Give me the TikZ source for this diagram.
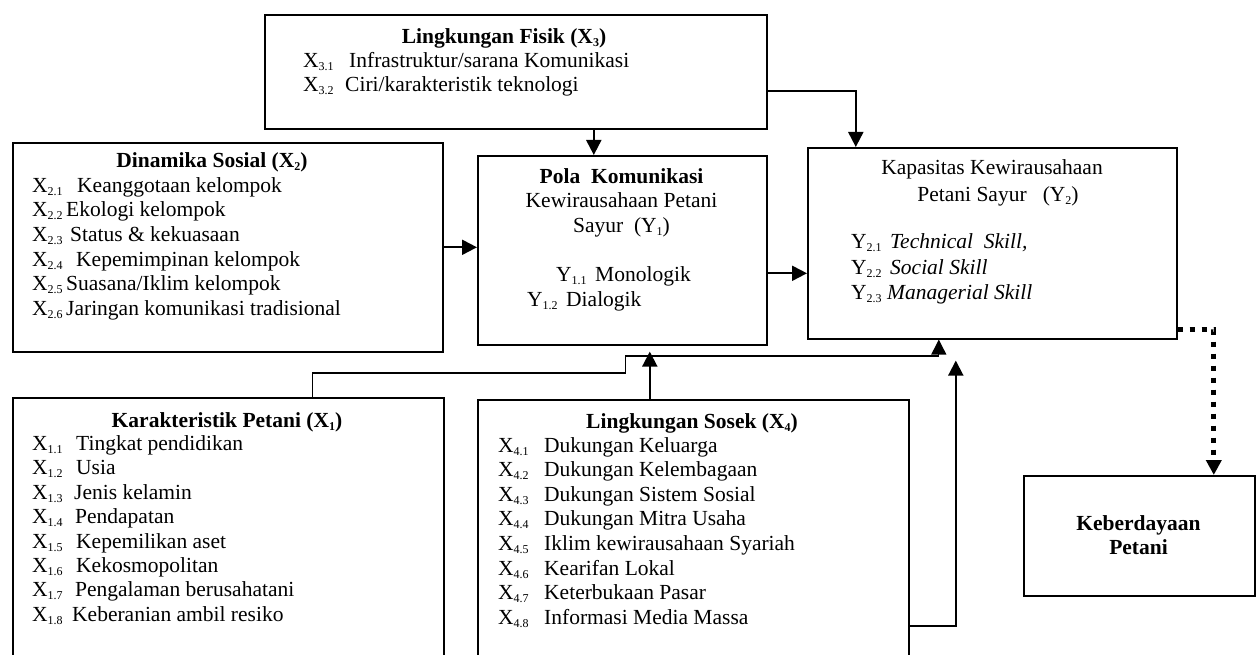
\documentclass[tikz,border=0pt]{standalone}
\usepackage{fontspec}
\setmainfont{Liberation Serif}
\usetikzlibrary{arrows.meta,positioning}
\tikzstyle{box}=[draw,line width=1.6pt,inner sep=0pt,anchor=north west]
\tikzstyle{txt}=[inner sep=0pt,text height=15pt,text depth=5pt]
\tikzstyle{head}=[txt,font=\bfseries]
\tikzstyle{item}=[txt,anchor=west]
\tikzstyle{arr}=[draw,line width=2pt,-{Triangle[length=15pt,width=15pt]}]
\tikzstyle{thin arr}=[arr,line width=1.3pt]
\tikzstyle{dot arr}=[arr,line width=5pt,dash pattern=on 5pt off 7pt]
\newcommand{\vx}[1]{X\raisebox{-3pt}{\fontsize{12}{12}\selectfont #1}}
\newcommand{\vy}[1]{Y\raisebox{-3pt}{\fontsize{12}{12}\selectfont #1}}

\begin{document}
\fontsize{21.5}{24.5}\selectfont
\begin{tikzpicture}[x=1pt,y=-1pt]
    \useasboundingbox (0,0) rectangle (1256,655);
    \clip (0,0) rectangle (1256,655);
    % First we draw the boxes
    \node[box,minimum width=502pt,minimum height=114pt] (fisik) at (264,14) {};
    \node[box,minimum width=430pt,minimum height=209pt] (dinamika) at (12,142) {};
    \node[box,minimum width=289pt,minimum height=189pt] (pola) at (477,155) {};
    \node[box,minimum width=369pt,minimum height=191pt] (kap) at (807,147) {};
    \node[box,minimum width=431pt,minimum height=310pt] (karak) at (12,397) {};
    \node[box,minimum width=431pt,minimum height=302pt] (sosek) at (477,399) {};
    \node[box,minimum width=231pt,minimum height=120pt] (keb) at (1023,475) {};

    % Lingkungan Fisik
    \node[head] (fisik-h) at (504,39) {Lingkungan Fisik (\vx{3})};
    \foreach \n/\g/\txt [count=\k] in {3.1/46/{Infrastruktur/sarana Komunikasi}, 3.2/42/{Ciri/karakteristik teknologi}}
        \node[item] (x3-\k) at (303,39+24*\k) {\makebox[\g pt][l]{\vx{\n}}\txt};

    % Dinamika Sosial
    \node[head] (dinamika-h) at (212,163) {Dinamika Sosial (\vx{2})};
    \foreach \n/\g/\txt [count=\k] in {2.1/45/{Keanggotaan kelompok}, 2.2/34/{Ekologi kelompok}, 2.3/38/{Status \& kekuasaan}, 2.4/44/{Kepemimpinan kelompok}, 2.5/34/{Suasana/Iklim kelompok}, 2.6/34/{Jaringan komunikasi tradisional}}
        \node[item] (x2-\k) at (32,163+24.5*\k) {\makebox[\g pt][l]{\vx{\n}}\txt};

    % Pola Komunikasi
    \node[head] (pola-h) at (621.5,179) {Pola\ \ Komunikasi};
    \node[txt] (pola-a) at (621.5,203) {Kewirausahaan Petani};
    \node[txt] (pola-b) at (621.5,228) {Sayur\ \ (\vy{1})};
    \node[item] (y1-1) at (556,276) {\makebox[39pt][l]{\vy{1.1}}Monologik};
    \node[item] (y1-2) at (527,301) {\makebox[39pt][l]{\vy{1.2}}Dialogik};

    % Kapasitas Kewirausahaan
    \node[txt] (kap-a) at (992,170) {Kapasitas Kewirausahaan};
    \node[txt] (kap-b) at (998,197) {Petani Sayur\ \ \ (\vy{2})};
    \foreach \n/\g/\txt [count=\k] in {2.1/39/{Technical\ \ Skill,}, 2.2/39/{Social Skill}, 2.3/36/{Managerial Skill}}
        \node[item] (y2-\k) at (851,219+25*\k) {\makebox[\g pt][l]{\vy{\n}}\textit{\txt}};

    % Karakteristik Petani
    \node[head] (karak-h) at (227,422) {Karakteristik Petani (\vx{1})};
    \foreach \n/\g/\txt [count=\k] in {1.1/44/{Tingkat pendidikan}, 1.2/44/{Usia}, 1.3/42/{Jenis kelamin}, 1.4/43/{Pendapatan}, 1.5/44/{Kepemilikan aset}, 1.6/44/{Kekosmopolitan}, 1.7/43/{Pengalaman berusahatani}, 1.8/40/{Keberanian ambil resiko}}
        \node[item] (x1-\k) at (32,421+24.4*\k) {\makebox[\g pt][l]{\vx{\n}}\txt};

    % Lingkungan Sosek
    \node[head] (sosek-h) at (692,423) {Lingkungan Sosek (\vx{4})};
    \foreach \n/\txt [count=\k] in {4.1/{Dukungan Keluarga}, 4.2/{Dukungan Kelembagaan}, 4.3/{Dukungan Sistem Sosial}, 4.4/{Dukungan Mitra Usaha}, 4.5/{Iklim kewirausahaan Syariah}, 4.6/{Kearifan Lokal}, 4.7/{Keterbukaan Pasar}, 4.8/{Informasi Media Massa}}
        \node[item] (x4-\k) at (498,422.5+24.6*\k) {\makebox[46pt][l]{\vx{\n}}\txt};

    % Keberdayaan Petani
    \node[head] (keb-a) at (1138.5,525) {Keberdayaan};
    \node[head] (keb-b) at (1138.5,549) {Petani};

    % Connect boxes with arrows
    \path[arr] ([xshift=78pt]fisik.south) -- ([xshift=78pt]fisik.south |- pola.north);
    \path[arr] ([yshift=-19pt]fisik.east) -| ([xshift=-136.5pt]kap.north);
    \path[arr] (dinamika.east) -- (dinamika.east -| pola.west);
    \path[arr] ([yshift=-23pt]pola.east) -- ([yshift=-23pt]pola.east -| kap.west);
    \path[thin arr] ([xshift=84.5pt]karak.north) -- ++(0,-24) -- ++(313,0) -- ++(0,-17) -| ([xshift=-53.5pt]kap.south);
    \path[arr,shorten >=6pt] ([xshift=-43.5pt]sosek.north) -- ([xshift=-43.5pt]sosek.north |- pola.south);
    \path[arr,shorten >=21pt] ([yshift=-75pt]sosek.east) -| ([xshift=-36.5pt]kap.south);
    \path[dot arr] ([yshift=-86.5pt]kap.east) -| ([xshift=74.5pt]keb.north);
\end{tikzpicture}
\end{document}
